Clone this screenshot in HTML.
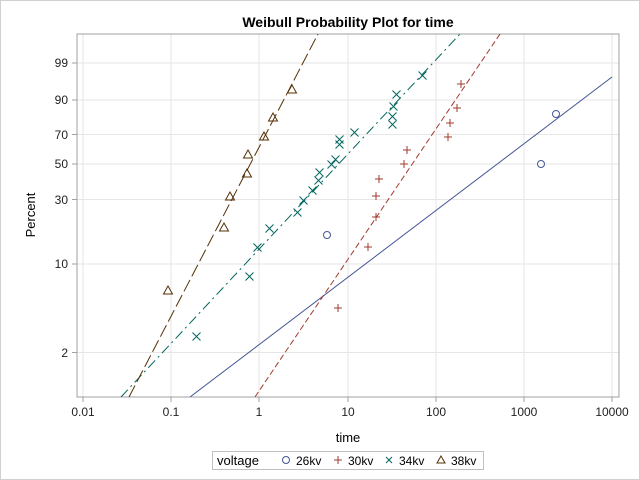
<!DOCTYPE html>
<html><head><style>body{margin:0;background:#fff}svg{display:block}text{font-family:"Liberation Sans",Arial,sans-serif}</style></head><body>
<svg width="640" height="480" xmlns="http://www.w3.org/2000/svg">
<rect x="0.5" y="0.5" width="639" height="479" fill="#fff" stroke="#d0d0d0"/>
<text x="348" y="27" text-anchor="middle" font-size="14" font-weight="bold">Weibull Probability Plot for time</text>
<g stroke="#e6e6e6" stroke-width="1">
<line x1="83" y1="34" x2="83" y2="397"/><line x1="171" y1="34" x2="171" y2="397"/><line x1="259" y1="34" x2="259" y2="397"/><line x1="348" y1="34" x2="348" y2="397"/><line x1="436" y1="34" x2="436" y2="397"/><line x1="524" y1="34" x2="524" y2="397"/><line x1="612" y1="34" x2="612" y2="397"/>
<line x1="77" y1="63" x2="619" y2="63"/><line x1="77" y1="100" x2="619" y2="100"/><line x1="77" y1="134.5" x2="619" y2="134.5"/><line x1="77" y1="164" x2="619" y2="164"/><line x1="77" y1="199.5" x2="619" y2="199.5"/><line x1="77" y1="264" x2="619" y2="264"/><line x1="77" y1="352.5" x2="619" y2="352.5"/>
</g>
<rect x="77" y="34" width="542" height="363" fill="none" stroke="#a0a0a0"/>
<g stroke="#a0a0a0"><line x1="83" y1="397" x2="83" y2="402"/><line x1="171" y1="397" x2="171" y2="402"/><line x1="259" y1="397" x2="259" y2="402"/><line x1="348" y1="397" x2="348" y2="402"/><line x1="436" y1="397" x2="436" y2="402"/><line x1="524" y1="397" x2="524" y2="402"/><line x1="612" y1="397" x2="612" y2="402"/>
<line x1="72" y1="63" x2="77" y2="63"/><line x1="72" y1="100" x2="77" y2="100"/><line x1="72" y1="134.5" x2="77" y2="134.5"/><line x1="72" y1="164" x2="77" y2="164"/><line x1="72" y1="199.5" x2="77" y2="199.5"/><line x1="72" y1="264" x2="77" y2="264"/><line x1="72" y1="352.5" x2="77" y2="352.5"/></g>
<g font-size="12" text-anchor="middle" fill="#222">
<text x="83" y="416">0.01</text><text x="171" y="416">0.1</text><text x="259" y="416">1</text><text x="348" y="416">10</text><text x="436" y="416">100</text><text x="524" y="416">1000</text><text x="612" y="416">10000</text></g>
<g font-size="12" text-anchor="end" fill="#222">
<text x="68" y="67">99</text><text x="68" y="104">90</text><text x="68" y="139">70</text><text x="68" y="168">50</text><text x="68" y="204">30</text><text x="68" y="268">10</text><text x="68" y="357">2</text></g>
<text x="348" y="442" text-anchor="middle" font-size="13">time</text>
<text transform="translate(35,215) rotate(-90)" text-anchor="middle" font-size="13">Percent</text>
<svg x="77" y="34" width="542" height="363" viewBox="77 34 542 363" overflow="hidden">
<line x1="190" y1="397" x2="612" y2="77" stroke="#445694" stroke-width="1"/>
<line x1="255" y1="397" x2="500" y2="34" stroke="#A23A2E" stroke-dasharray="6,3"/>
<line x1="121" y1="397" x2="460" y2="34" stroke="#01665E" stroke-dasharray="10,4,2,4"/>
<line x1="129" y1="397" x2="318" y2="34" stroke="#543005" stroke-dasharray="13,4"/>
</svg>
<g fill="none" stroke="#445694"><circle cx="327" cy="235" r="3.5"/><circle cx="541" cy="164" r="3.5"/><circle cx="556" cy="114" r="3.5"/></g>
<g stroke="#A23A2E" fill="none">
<path d="M334 308h8M338 304v8 M364 247h8M368 243v8 M372 217h8M376 213v8 M372 196h8M376 192v8 M375 179h8M379 175v8 M400 164h8M404 160v8 M403 150h8M407 146v8 M444 137h8M448 133v8 M446 123h8M450 119v8 M453 108h8M457 104v8 M457 84h8M461 80v8"/></g>
<g stroke="#01665E" fill="none" transform="translate(-0.5,-0.5)">
<path d="M193 333l8 8M201 333l-8 8 M246 273l8 8M254 273l-8 8 M254 244l8 8M262 244l-8 8 M266 225l8 8M274 225l-8 8 M294 209l8 8M302 209l-8 8 M300 197l8 8M308 197l-8 8 M309 187l8 8M317 187l-8 8 M315 177l8 8M323 177l-8 8 M316 169l8 8M324 169l-8 8 M328 161l8 8M336 161l-8 8 M332 156l8 8M340 156l-8 8 M336 141l8 8M344 141l-8 8 M336 136l8 8M344 136l-8 8 M351 129l8 8M359 129l-8 8 M389 121l8 8M397 121l-8 8 M389 113l8 8M397 113l-8 8 M390 103l8 8M398 103l-8 8 M393 91l8 8M401 91l-8 8 M419 72l8 8M427 72l-8 8"/></g>
<g stroke="#543005" fill="none">
<path d="M168 286l4.5 8h-9z M224 223l4.5 8h-9z M230 192l4.5 8h-9z M247 169l4.5 8h-9z M248 150l4.5 8h-9z M264 132l4.5 8h-9z M273 113l4.5 8h-9z M292 85l4.5 8h-9z"/></g>
<rect x="212.5" y="451.5" width="271" height="18" fill="#fff" stroke="#c0c0c0"/>
<text x="217" y="465" font-size="13">voltage</text>
<circle cx="286" cy="460" r="3.5" fill="none" stroke="#445694"/><text x="296" y="465" font-size="12">26kv</text>
<path d="M334 460h8M338 456v8" stroke="#A23A2E"/><text x="348" y="465" font-size="12">30kv</text>
<path d="M386 457l6 6M392 457l-6 6" stroke="#01665E"/><text x="399" y="465" font-size="12">34kv</text>
<path d="M441 456l4 7h-8z" stroke="#543005" fill="none"/><text x="451" y="465" font-size="12">38kv</text>
</svg>
</body></html>
